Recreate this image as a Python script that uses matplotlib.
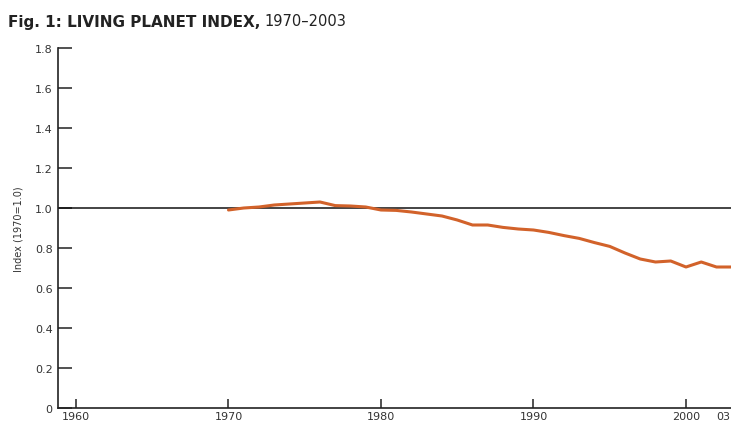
import matplotlib
matplotlib.use("Agg")
import matplotlib.pyplot as plt
import matplotlib.transforms as mtransforms

# Living Planet Index values (1970 = 1.0)
years = list(range(1970, 2004))
lpi = [0.99, 1.00, 1.005, 1.015, 1.02, 1.025, 1.03, 1.012, 1.01, 1.005,
       0.99, 0.988, 0.98, 0.97, 0.96, 0.94, 0.915, 0.915, 0.903, 0.895,
       0.89, 0.878, 0.862, 0.848, 0.827, 0.808, 0.775, 0.745, 0.73, 0.735,
       0.705, 0.73, 0.705, 0.705]

xticks = [1960, 1970, 1980, 1990, 2000, 2003]
xticklabels = ["1960", "1970", "1980", "1990", "2000", "03"]
yticks = [0, 0.2, 0.4, 0.6, 0.8, 1.0, 1.2, 1.4, 1.6, 1.8]
yticklabels = ["0", "0.2", "0.4", "0.6", "0.8", "1.0", "1.2", "1.4", "1.6", "1.8"]

plt.rcParams['font.family'] = ['DejaVu Sans']

W, H = 731, 427
fig = plt.figure(figsize=(W / 100, H / 100), dpi=100)

# axes placed in pixel terms; right side runs past the figure edge
px_per_year = 15.25
x0 = 1958.84
x1 = 2004.0
left_px, bottom_px, top_px = 58.3, 409.0, 49.0
ax = fig.add_axes([left_px / W, (H - bottom_px) / H,
                   (x1 - x0) * px_per_year / W, (bottom_px - top_px) / H])

ax.axhline(1.0, color='#111111', linewidth=1.1, zorder=2)
ax.plot(years, lpi, color='#d2622a', linewidth=2.2, solid_capstyle='round', zorder=3)

ax.set_xlim(x0, x1)
ax.set_ylim(0, 1.8)
ax.set_xticks(xticks)
ax.set_xticklabels(xticklabels)
ax.set_yticks(yticks)
ax.set_yticklabels(yticklabels)

for s in ['top', 'right']:
    ax.spines[s].set_visible(False)
for s in ['left', 'bottom']:
    ax.spines[s].set_color('#222222')
    ax.spines[s].set_linewidth(1.2)

ax.tick_params(axis='y', direction='in', length=10, width=1.1, color='#222222',
               labelsize=8, labelcolor='#333333', pad=4)
ax.tick_params(axis='x', direction='in', length=6.5, width=1.1, color='#222222',
               labelsize=8, labelcolor='#333333', pad=2.5)

# the "03" label sits a bit left of its tick, as in the original
lbl = ax.get_xticklabels()[-1]
lbl.set_transform(lbl.get_transform() + mtransforms.ScaledTranslation(-8 / 100, 0, fig.dpi_scale_trans))

ax.set_ylabel("Index (1970=1.0)", fontsize=7, color='#333333', labelpad=8)

t1 = fig.text(8 / W, 1 - 22 / H, "Fig. 1: LIVING PLANET INDEX,", fontsize=11,
              fontweight='bold', color='#222222', va='center', ha='left')
fig.canvas.draw()
bb = t1.get_window_extent()
fig.text((bb.x1 + 4) / W, 1 - 22 / H, "1970\u20132003", fontsize=10.5,
         color='#222222', va='center', ha='left')

fig.savefig("out.png", dpi=100)
